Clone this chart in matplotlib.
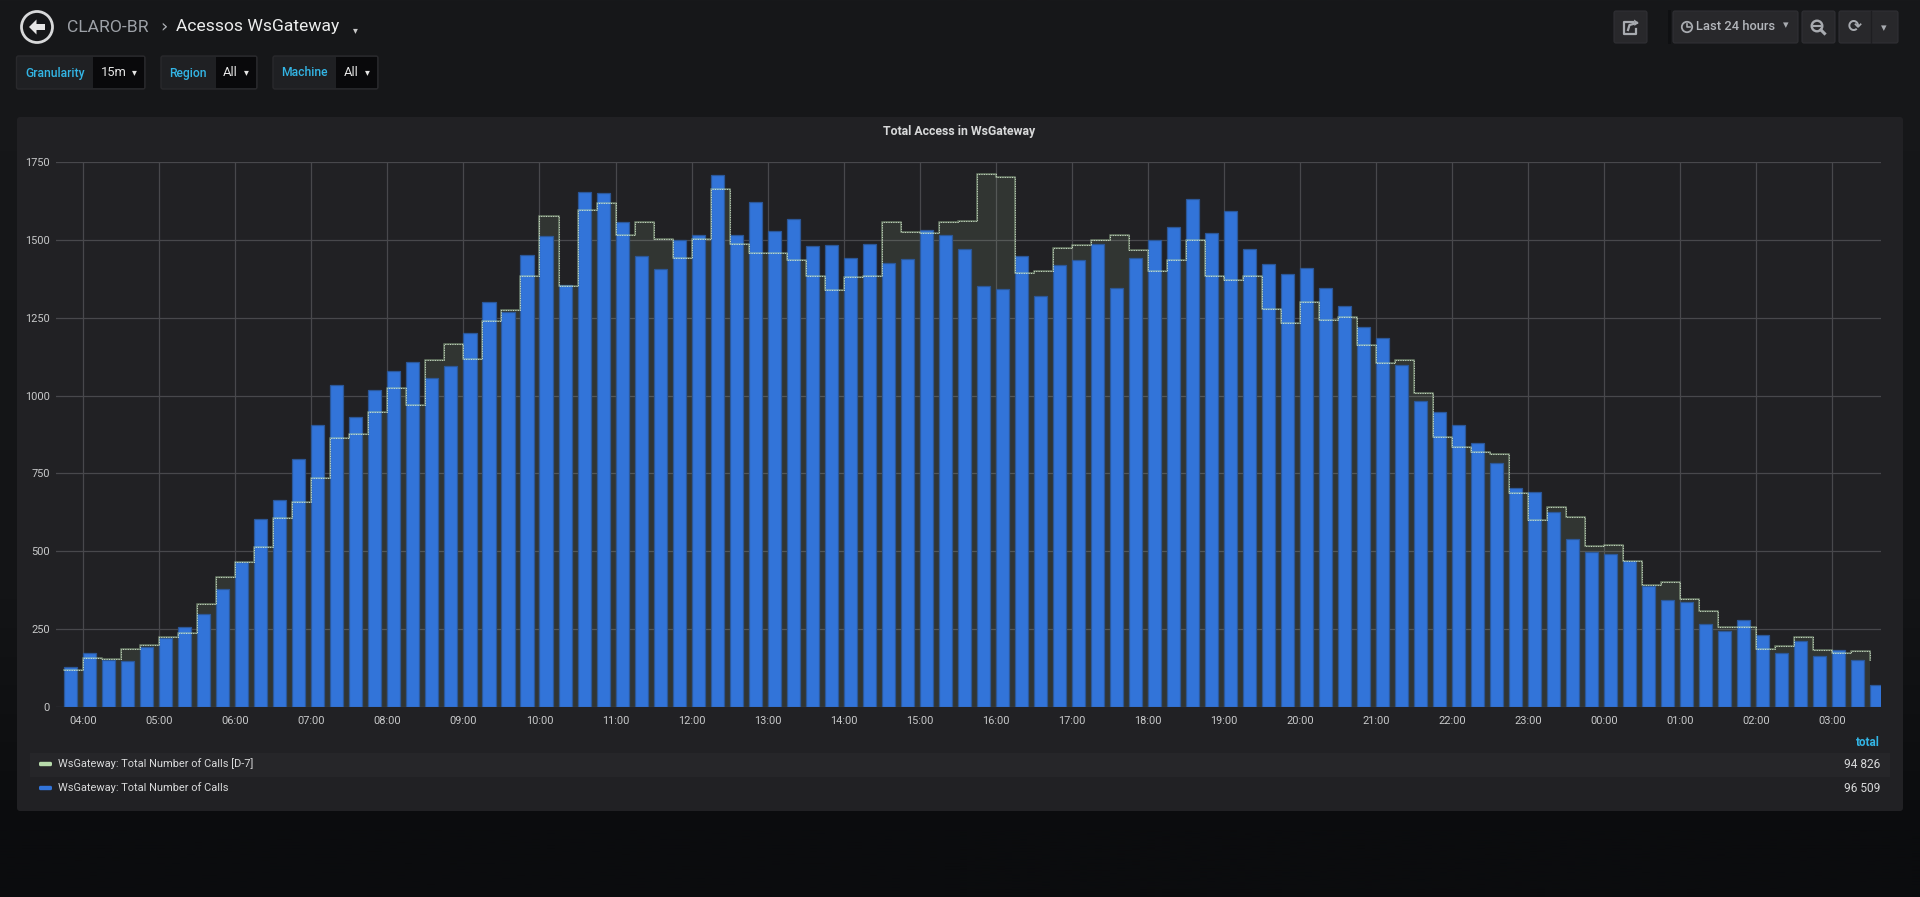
import numpy as np
import pandas as pd
import matplotlib
matplotlib.use("Agg")
import matplotlib.pyplot as plt
import matplotlib.dates as mdates
from matplotlib.patches import Rectangle, FancyBboxPatch, Circle, Polygon
from matplotlib.lines import Line2D

plt.rcParams['font.family'] = ['Roboto', 'DejaVu Sans']

# ---------------- data ----------------
start_time = "2019-05-20 03:45"
n_points = 96
calls = [129, 174, 150, 147, 192, 220, 258, 300, 379,
         465, 604, 664, 795, 905, 1034, 932, 1019,
         1080, 1107, 1057, 1094, 1200, 1302, 1269, 1450,
         1511, 1356, 1655, 1652, 1556, 1449, 1405, 1498,
         1517, 1708, 1517, 1621, 1527, 1566, 1479, 1484,
         1443, 1486, 1426, 1438, 1531, 1516, 1472, 1353,
         1342, 1447, 1319, 1420, 1434, 1488, 1345, 1442,
         1500, 1541, 1632, 1522, 1592, 1471, 1421, 1389,
         1411, 1345, 1287, 1221, 1185, 1098, 981, 946,
         906, 849, 785, 704, 689, 625, 540, 497,
         492, 468, 389, 345, 336, 268, 244, 278,
         230, 174, 211, 163, 184, 152, 71]
calls_d7 = [119, 158, 154, 187, 198, 224, 238, 332, 419,
            467, 515, 608, 659, 734, 865, 877, 947,
            1024, 971, 1114, 1164, 1116, 1240, 1275, 1384,
            1577, 1352, 1597, 1619, 1514, 1558, 1503, 1441,
            1503, 1664, 1487, 1459, 1457, 1436, 1383, 1340,
            1382, 1384, 1558, 1524, 1522, 1558, 1561, 1713,
            1701, 1394, 1400, 1474, 1484, 1501, 1516, 1468,
            1400, 1436, 1498, 1385, 1372, 1384, 1278, 1232,
            1299, 1242, 1253, 1163, 1103, 1115, 1008, 867,
            834, 819, 813, 688, 599, 641, 610, 518,
            521, 468, 393, 400, 348, 309, 258, 258,
            185, 195, 224, 184, 174, 181, 152]
series_names = ["WsGateway: Total Number of Calls [D-7]", "WsGateway: Total Number of Calls"]
series_totals = ["94 826", "96 509"]
y_ticks = [0, 250, 500, 750, 1000, 1250, 1500, 1750]
panel_title = "Total Access in WsGateway"

times = pd.date_range(start_time, periods=n_points, freq="15min")
t = mdates.date2num(times.to_pydatetime())

# ---------------- figure ----------------
W, H = 1920, 897
fig = plt.figure(figsize=(W / 100, H / 100), dpi=100)
fig.patch.set_facecolor('#0b0c0e')

bg = fig.add_axes([0, 0, 1, 1])
bg.set_xlim(0, W)
bg.set_ylim(H, 0)
bg.axis('off')
bg.set_zorder(0)

# page gradient
ys = np.linspace(0, 1, 300)
c_top = np.array([0x17, 0x18, 0x1a]) / 255
c_mid = np.array([0x13, 0x14, 0x16]) / 255
c_bot = np.array([0x0b, 0x0c, 0x0e]) / 255
grad = np.zeros((300, 1, 3))
for i, yy in enumerate(ys):
    ypx = yy * H
    if ypx < 600:
        f = ypx / 600
        c = c_top * (1 - f) + c_mid * f
    elif ypx < 830:
        f = (ypx - 600) / 230
        c = c_mid * (1 - f) + c_bot * f
    else:
        c = c_bot
    grad[i, 0] = c
bg.imshow(grad, extent=[0, W, H, 0], aspect='auto', zorder=0)
bg.set_xlim(0, W)
bg.set_ylim(H, 0)

def box(x0, y0, x1, y1, fc, ec='none', lw=0, z=1, r=0):
    if r > 0:
        p = FancyBboxPatch((x0, y0), x1 - x0, y1 - y0,
                           boxstyle=f"round,pad=0,rounding_size={r}",
                           fc=fc, ec=ec, lw=lw, zorder=z)
    else:
        p = Rectangle((x0, y0), x1 - x0, y1 - y0, fc=fc, ec=ec, lw=lw, zorder=z)
    bg.add_patch(p)
    return p

def txt(x, y, s, **kw):
    kw.setdefault('va', 'center')
    kw.setdefault('zorder', 5)
    return bg.text(x, y, s, **kw)

# ---------------- header ----------------
bg.add_patch(Circle((37, 27), 15.5, fc='none', ec='#d8d9da', lw=2.0, zorder=5))
bg.add_patch(Polygon([(29, 27), (36.5, 19.5), (36.5, 34.5)], closed=True, fc='#e6e6e6', ec='none', zorder=6))
box(35, 24.3, 45, 29.7, '#e6e6e6', z=6)

txt(67, 27, "CLARO-BR", color='#9da1a7', fontsize=12.6)
txt(160, 27.5, "›", color='#b0b3b8', fontsize=13, family=['DejaVu Sans'])
txt(176, 27, "Acessos WsGateway", color='#eceded', fontsize=12.6)
txt(355, 30, "▾", color='#c8c8c8', fontsize=7, ha='center', family=['DejaVu Sans'])

# template variables
var_boxes = [
    (16.5, 93, 145, "Granularity", "15m"),
    (161, 215.5, 257, "Region", "All"),
    (273, 336, 378, "Machine", "All"),
]
for x0, xm, x1, lab, val in var_boxes:
    box(x0, 56, x1, 89, '#1f2023', ec='#29292c', lw=1, z=2, r=2)
    box(xm, 57, x1 - 1, 88, '#09090b', z=3)
    txt(x0 + 8.5, 73, lab, color='#33b5e5', fontsize=8.7, fontweight='medium')
    txt(xm + 7.5, 73, val, color='#e6e6e6', fontsize=9.3)
    txt(x1 - 11, 72.5, "▾", color='#e6e6e6', fontsize=7, ha='center', family=['DejaVu Sans'])

# right-hand buttons
btn_c = '#28282b'
btn_e = '#303034'
box(1614, 11, 1647, 43, btn_c, ec=btn_e, lw=0.8, z=2, r=2)
box(1668, 10, 1671, 44, '#0f1012', z=2)
box(1673, 11, 1798, 43, btn_c, ec=btn_e, lw=0.8, z=2, r=2)
box(1802, 11, 1835, 43, btn_c, ec=btn_e, lw=0.8, z=2, r=2)
box(1839, 11, 1898, 43, btn_c, ec=btn_e, lw=0.8, z=2, r=2)
bg.add_line(Line2D([1871, 1871], [11, 43], color='#1e1e21', lw=1, zorder=3))

icon_c = '#a8abb0'
# share icon
bg.add_line(Line2D([1633, 1624, 1624, 1636, 1636], [22, 22, 34, 34, 29], color=icon_c, lw=1.6, zorder=5))
bg.add_line(Line2D([1628, 1629.5, 1637], [30, 25, 23], color=icon_c, lw=1.6, zorder=5))
bg.add_patch(Polygon([(1638.5, 22.5), (1634, 19.5), (1634.5, 26)], closed=True, fc=icon_c, ec='none', zorder=5))
# clock + label
bg.add_patch(Circle((1687, 27), 5.2, fc='none', ec=icon_c, lw=1.3, zorder=5))
bg.add_line(Line2D([1687, 1687, 1689.5], [23.8, 27.5, 27.5], color=icon_c, lw=1.2, zorder=5))
txt(1696, 27, "Last 24 hours", color='#b3b6bb', fontsize=9.3, fontweight='medium')
txt(1786, 25.5, "▾", color=icon_c, fontsize=8, ha='center', family=['DejaVu Sans'])
# zoom-out icon
bg.add_patch(Circle((1817, 26), 5.3, fc='none', ec=icon_c, lw=1.7, zorder=5))
bg.add_line(Line2D([1814.3, 1819.7], [26, 26], color=icon_c, lw=1.5, zorder=5))
bg.add_line(Line2D([1820.8, 1824.5], [29.8, 33.5], color=icon_c, lw=2.2, zorder=5))
# refresh icon + caret
txt(1855, 27, "⟳", color=icon_c, fontsize=12, ha='center', family=['DejaVu Sans'], fontweight='bold')
txt(1884, 28, "▾", color=icon_c, fontsize=8, ha='center', family=['DejaVu Sans'])

# ---------------- panel ----------------
box(17, 117, 1903, 811, '#212124', z=1, r=3)
txt(959, 131, panel_title, color='#d8d9da', fontsize=8.8, fontweight='bold', ha='center')

# legend area
box(29.5, 753, 1890, 777, '#262629', z=2)
txt(1880, 742, "total", color='#33b5e5', fontsize=8.4, fontweight='bold', ha='right')
leg_colors = ['#b7dbab', '#3274d9']
for i, (name, tot, col) in enumerate(zip(series_names, series_totals, leg_colors)):
    yc = 764 + 24 * i
    box(39, yc - 2.2, 52, yc + 2.2, col, z=4, r=1.5)
    txt(58.5, yc, name, color='#d8d9da', fontsize=7.9)
    txt(1880, yc, tot, color='#d8d9da', fontsize=8.6, ha='right')

# ---------------- chart ----------------
ax_l, ax_r, ax_t, ax_b = 56, 1881, 162, 707
ax = fig.add_axes([ax_l / W, 1 - ax_b / H, (ax_r - ax_l) / W, (ax_b - ax_t) / H])
ax.set_zorder(2)
ax.patch.set_alpha(0)

x0 = mdates.date2num(pd.Timestamp("2019-05-20 03:38:30").to_pydatetime())
ax.set_xlim(x0, x0 + 1.0)
ax.set_ylim(0, 1750)

d7_color = '#b7dbab'
ax.fill_between(t, calls_d7, step='post', color=d7_color, alpha=0.11, lw=0, zorder=1)
ax.bar(t, calls, width=10.3 / 1440, align='edge', color='#3274d9',
       edgecolor='#2b5798', linewidth=0.9, zorder=2)
ax.step(t, calls_d7, where='post', color=d7_color, alpha=0.38, lw=1.4, zorder=3)
ax.step(t, calls_d7, where='post', color='#e4f3df', alpha=0.75, lw=0.75,
        linestyle=(0, (1, 1.3)), zorder=4)

ax.set_yticks(y_ticks)
ax.xaxis.set_major_locator(mdates.HourLocator())
ax.xaxis.set_major_formatter(mdates.DateFormatter('%H:%M'))
ax.grid(True, color='#48484c', lw=0.9, zorder=0)
ax.set_axisbelow(True)
for s in ax.spines.values():
    s.set_visible(False)
ax.tick_params(axis='both', length=0, colors='#c8c9ca', labelsize=7.9)
ax.tick_params(axis='y', pad=4.5)
ax.tick_params(axis='x', pad=6.5)
for lab in ax.get_xticklabels() + ax.get_yticklabels():
    lab.set_color('#c8c9ca')

fig.savefig("out.png", dpi=100, facecolor=fig.get_facecolor())
